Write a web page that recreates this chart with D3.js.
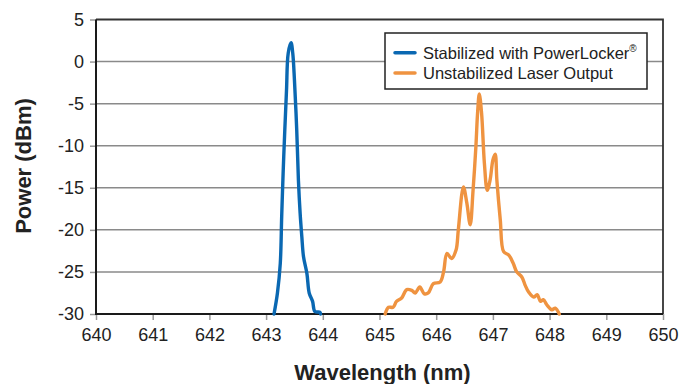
<!DOCTYPE html>
<html>
<head>
<meta charset="utf-8">
<script src="https://cdn.jsdelivr.net/npm/d3@7"></script>
<style>
  html, body { margin: 0; padding: 0; background: #fff; }
  svg { display: block; font-family: "Liberation Sans", Arial, Helvetica, sans-serif; }
</style>
</head>
<body>
<svg id="chart" width="696" height="384"></svg>
<script>
// ---- data ----
const xTicks = [640, 641, 642, 643, 644, 645, 646, 647, 648, 649, 650];
const yTicks = [5, 0, -5, -10, -15, -20, -25, -30];

const seriesNames = ["Stabilized with PowerLocker", "Unstabilized Laser Output"];

const stabilizedWavelength = [643.14, 643.20, 643.25, 643.275, 643.30, 643.33, 643.36, 643.39, 643.44, 643.47, 643.50, 643.54, 643.57, 643.60, 643.63, 643.66, 643.72, 643.76, 643.82, 643.86, 643.95, 643.96];
const stabilizedPower      = [-30.0, -27.5, -24.0, -18.4, -13.3, -8.1, -3.4, 1.0, 2.24, 1.0, -2.2, -8.1, -14.1, -18.0, -20.8, -23.2, -25.2, -27.5, -28.5, -29.7, -29.8, -30.0];

const unstabilizedWavelength = [645.10, 645.16, 645.24, 645.30, 645.39, 645.48, 645.57, 645.63, 645.71, 645.79, 645.86, 645.95, 646.07, 646.13, 646.19, 646.27, 646.35, 646.39, 646.48, 646.54, 646.60, 646.65, 646.70, 646.73, 646.76, 646.80, 646.85, 646.90, 646.95, 647.00, 647.04, 647.07, 647.13, 647.19, 647.28, 647.36, 647.42, 647.51, 647.57, 647.63, 647.72, 647.78, 647.84, 647.89, 647.95, 648.04, 648.10, 648.17];
const unstabilizedPower      = [-30.0, -29.2, -29.2, -28.5, -28.1, -27.1, -27.2, -27.5, -26.8, -27.6, -27.5, -26.4, -26.2, -25.0, -22.8, -23.4, -22.4, -20.0, -14.9, -16.8, -19.4, -15.3, -10.1, -6.1, -3.85, -6.1, -12.1, -15.3, -14.1, -11.7, -11.0, -14.1, -18.8, -22.6, -23.0, -24.0, -25.0, -25.6, -26.6, -27.4, -28.0, -27.7, -28.5, -28.3, -28.9, -29.5, -29.3, -30.0];

// ---- layout ----
const svg = d3.select("#chart");
const mLeft = 96, mRight = 663, mTop = 19.5, mBottom = 314;
const blue = "#0a68b2", orange = "#ef9340";

const x = d3.scaleLinear().domain([640, 650]).range([mLeft, mRight]);
const y = d3.scaleLinear().domain([-30, 5]).range([mBottom, mTop]);

// gridlines
svg.append("g").selectAll("line").data(yTicks.filter(d => d !== -30 && d !== 5)).join("line")
  .attr("x1", mLeft).attr("x2", mRight)
  .attr("y1", d => y(d)).attr("y2", d => y(d))
  .attr("stroke", "#8a8a8a").attr("stroke-width", 1.5);

// axes
const xAxis = d3.axisBottom(x).tickValues(xTicks).tickFormat(d => String(d)).tickSize(6).tickPadding(8);
const gx = svg.append("g").attr("transform", `translate(0,${mBottom})`).call(xAxis);
gx.select(".domain").remove();
gx.selectAll(".tick line").attr("stroke", "#999").attr("stroke-width", 1.5);
gx.selectAll(".tick text").attr("font-size", 18).attr("fill", "#222")
  .attr("font-family", "Liberation Sans, Arial, sans-serif");

const yAxis = d3.axisLeft(y).tickValues(yTicks).tickFormat(d => String(d)).tickSize(6).tickPadding(6);
const gy = svg.append("g").attr("transform", `translate(${mLeft},0)`).call(yAxis);
gy.select(".domain").remove();
gy.selectAll(".tick line").attr("stroke", "#999").attr("stroke-width", 1.5);
gy.selectAll(".tick text").attr("font-size", 18).attr("fill", "#222")
  .attr("font-family", "Liberation Sans, Arial, sans-serif");

// frame
svg.append("path")
  .attr("d", `M${mLeft},${mTop}H${mRight}V${mBottom}`)
  .attr("fill", "none").attr("stroke", "#333").attr("stroke-width", 1.8);
svg.append("path")
  .attr("d", `M${mLeft},${mTop}V${mBottom}H${mRight}`)
  .attr("fill", "none").attr("stroke", "#1a1a1a").attr("stroke-width", 2);

// lines
const line = d3.line().x(d => x(d[0])).y(d => y(d[1])).curve(d3.curveCatmullRom.alpha(0.5));
const sData = stabilizedWavelength.map((w, i) => [w, stabilizedPower[i]]);
const uData = unstabilizedWavelength.map((w, i) => [w, unstabilizedPower[i]]);

svg.append("path").datum(uData).attr("d", line)
  .attr("fill", "none").attr("stroke", orange).attr("stroke-width", 3.4)
  .attr("stroke-linejoin", "round").attr("stroke-linecap", "round");
svg.append("path").datum(sData).attr("d", line)
  .attr("fill", "none").attr("stroke", blue).attr("stroke-width", 3.4)
  .attr("stroke-linejoin", "round").attr("stroke-linecap", "round");

// legend
const lg = svg.append("g");
lg.append("rect").attr("x", 385).attr("y", 33).attr("width", 262).attr("height", 56)
  .attr("fill", "#fff").attr("stroke", "#222").attr("stroke-width", 1.5);
const colors = [blue, orange];
seriesNames.forEach((name, i) => {
  const cy = 52.7 + i * 20.3;
  lg.append("line").attr("x1", 395).attr("x2", 415).attr("y1", cy).attr("y2", cy)
    .attr("stroke", colors[i]).attr("stroke-width", 3.5).attr("stroke-linecap", "round");
  const t = lg.append("text").attr("x", 423).attr("y", cy + 5.8)
    .attr("font-size", 16.5).attr("fill", "#222").text(name);
  if (i === 0) {
    t.append("tspan").attr("font-size", 10).attr("dy", -7).text("®");
  }
});

// axis titles
svg.append("text").attr("x", (mLeft + mRight) / 2 + 3).attr("y", 380)
  .attr("text-anchor", "middle").attr("font-size", 22).attr("font-weight", "bold")
  .attr("fill", "#222").text("Wavelength (nm)");
svg.append("text").attr("transform", `translate(31,166) rotate(-90)`)
  .attr("text-anchor", "middle").attr("font-size", 22).attr("font-weight", "bold")
  .attr("fill", "#222").text("Power (dBm)");
</script>
</body>
</html>
